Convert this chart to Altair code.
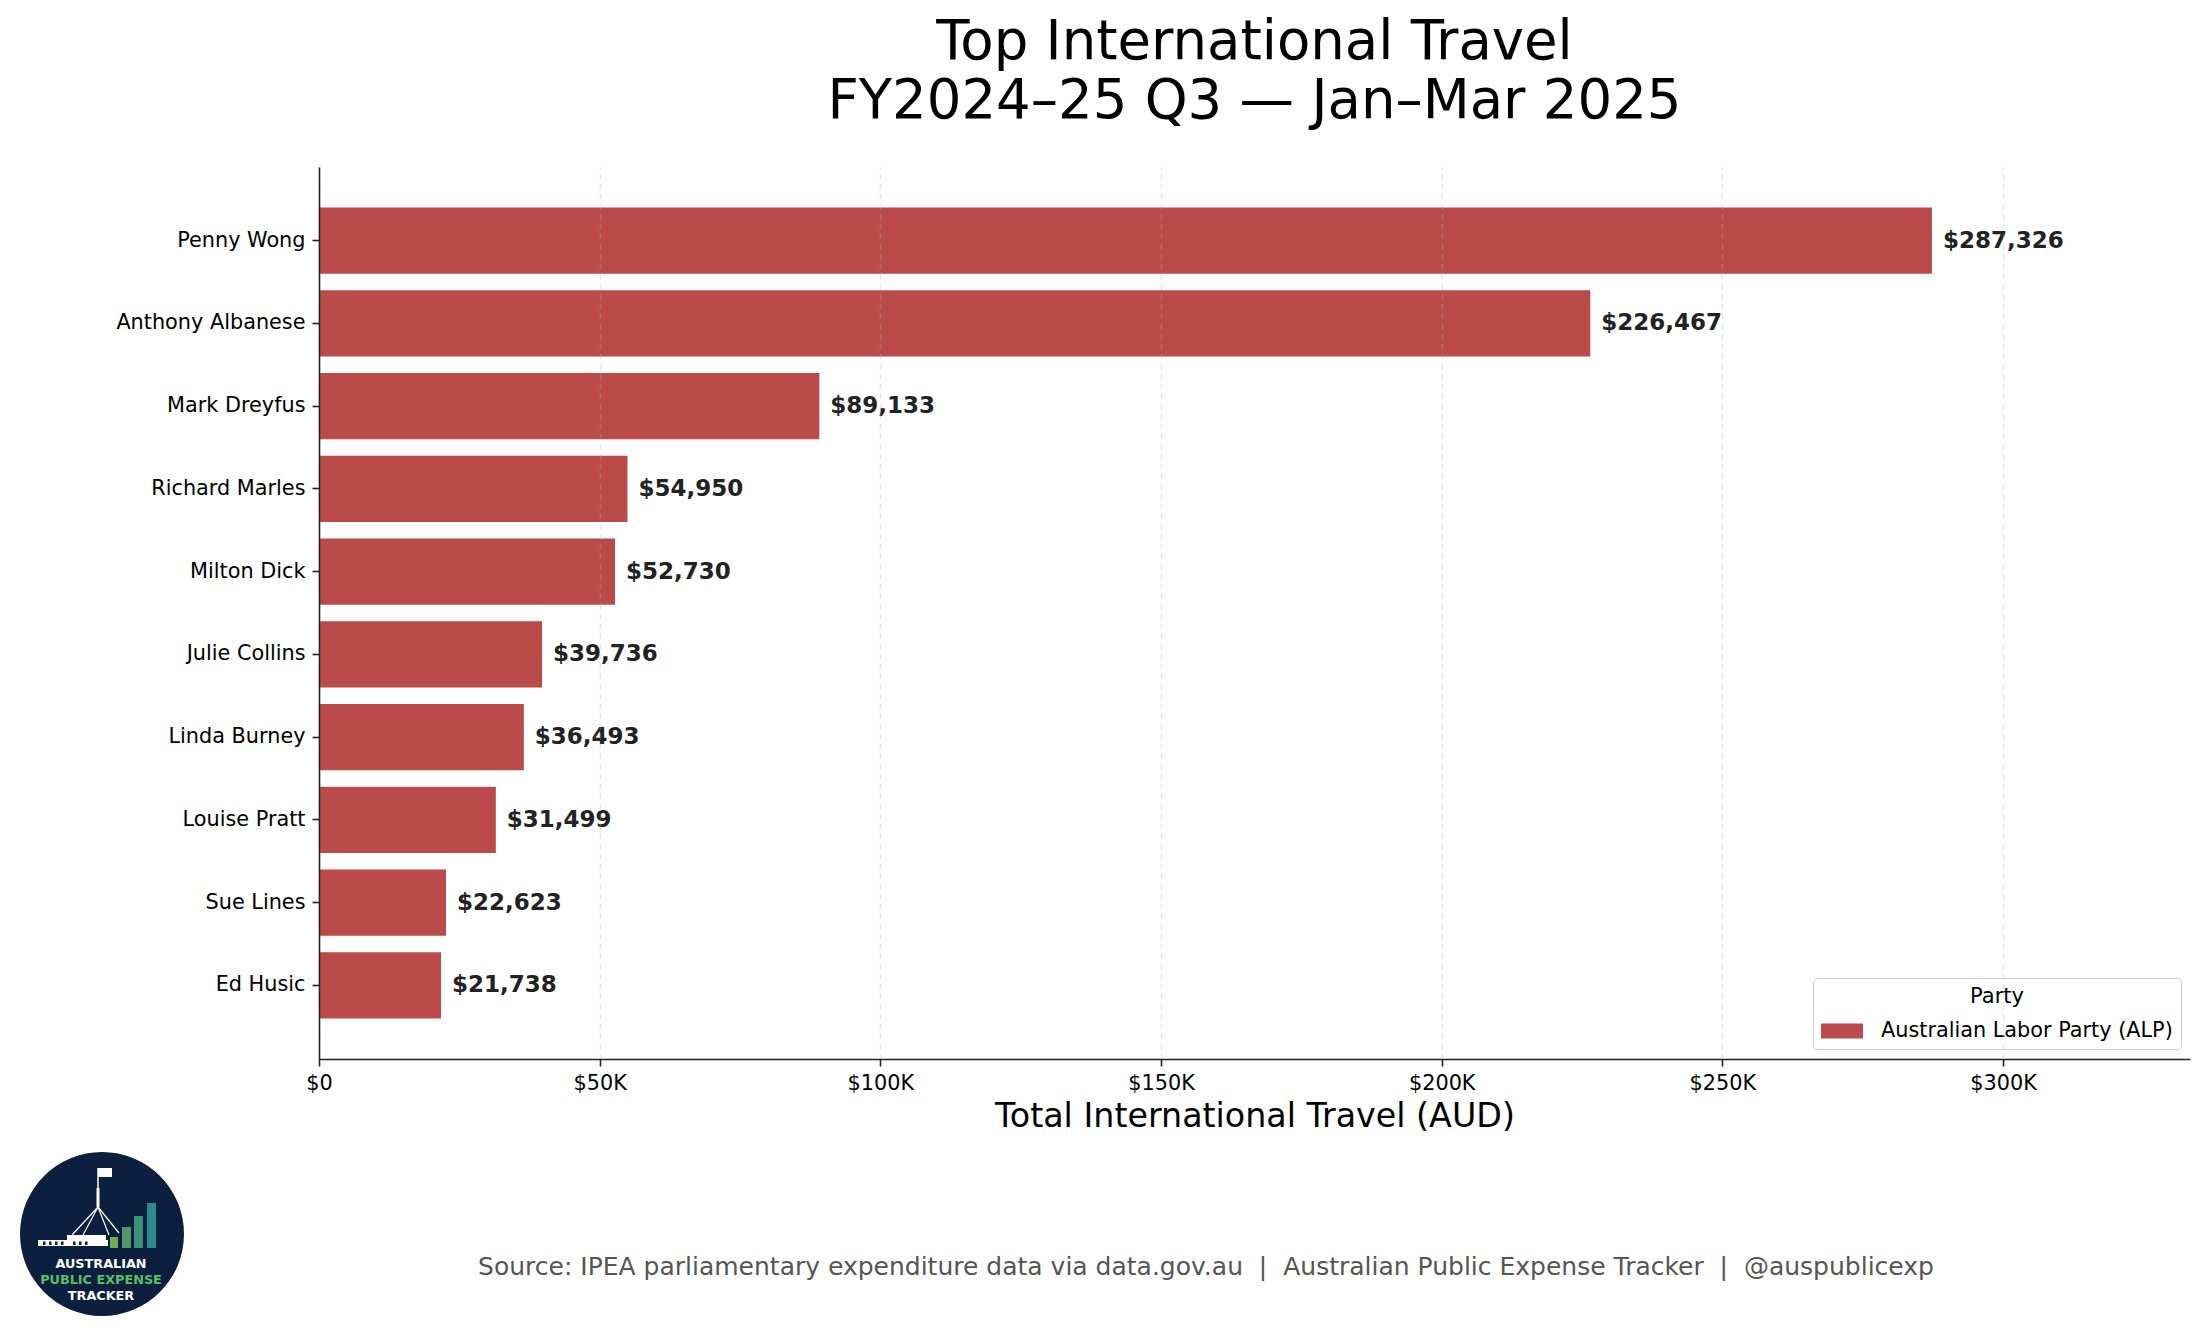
import altair as alt
import pandas as pd

names = ["Penny Wong", "Anthony Albanese", "Mark Dreyfus", "Richard Marles", "Milton Dick",
         "Julie Collins", "Linda Burney", "Louise Pratt", "Sue Lines", "Ed Husic"]
values = [287326, 226467, 89133, 54950, 52730, 39736, 36493, 31499, 22623, 21738]
party = ["Australian Labor Party (ALP)"] * len(names)
x_ticks = [0, 50000, 100000, 150000, 200000, 250000, 300000]
title_lines = ["Top International Travel", "FY2024–25 Q3 — Jan–Mar 2025"]
x_title = "Total International Travel (AUD)"
SEP = "\u00a0\u00a0|\u00a0\u00a0"
source_text = ("Source: IPEA parliamentary expenditure data via data.gov.au" + SEP +
               "Australian Public Expense Tracker" + SEP + "@auspublicexp")

df = pd.DataFrame({"name": names, "value": values, "party": party})

FONT = "DejaVu Sans"
BAR = "#BA4B4A"
NAVY = "#0c1f3e"

xs = alt.X("value:Q",
           scale=alt.Scale(domain=[0, 333300], nice=False, zero=True),
           axis=alt.Axis(values=x_ticks, title=x_title, labelFlush=False,
                         labelExpr="datum.value == 0 ? '$0' : '$' + (datum.value/1000) + 'K'",
                         grid=True, gridDash=[6, 4], gridColor="#b0b0b0", gridOpacity=0.3,
                         gridWidth=1.5, zindex=1))
ys = alt.Y("name:N", sort=names,
           scale=alt.Scale(paddingInner=0.2, paddingOuter=0.49),
           axis=alt.Axis(title=None, grid=False, zindex=1, labelLimit=0))

bars = alt.Chart(df).mark_bar().encode(
    x=xs, y=ys,
    color=alt.Color("party:N",
                    scale=alt.Scale(domain=["Australian Labor Party (ALP)"], range=[BAR]),
                    legend=alt.Legend(title="Party", orient="none", legendX=1494, legendY=811,
                                      fillColor="white", strokeColor="#cccccc", cornerRadius=4,
                                      padding=8, titleFontSize=21, titleFontWeight="normal",
                                      titleAnchor="middle", titleColor="#000000", titlePadding=3,
                                      labelFontSize=20.8, labelColor="#000000", labelOffset=18,
                                      labelLimit=0,
                                      symbolType="M-1,-0.357L1,-0.357L1,0.357L-1,0.357Z",
                                      symbolSize=1764, symbolStrokeWidth=0, symbolOpacity=1)),
)

labels = alt.Chart(df).transform_calculate(
    label="'$' + format(datum.value, ',')"
).mark_text(align="left", baseline="middle", dx=11, fontSize=23, fontWeight="bold",
            color="#222222", font=FONT).encode(
    x=alt.X("value:Q"), y=alt.Y("name:N", sort=names), text="label:N")

one = pd.DataFrame({"k": [0]})


def deco(mark, **enc):
    return getattr(alt.Chart(one), mark[0])(**mark[1]).encode(**enc)


layers = [bars, labels]

# source line
layers.append(deco(("mark_text", dict(align="center", baseline="alphabetic", fontSize=25,
                                      color="#555555", font=FONT)),
                   x=alt.value(887), y=alt.value(1108), text=alt.value(source_text)))

# logo
layers.append(deco(("mark_point", dict(shape="circle", filled=True, opacity=1, size=26896,
                                       color=NAVY)),
                   x=alt.value(-217), y=alt.value(1067)))
# building
layers.append(deco(("mark_rect", dict(color="white")),
                   x=alt.value(-281), x2=alt.value(-211), y=alt.value(1073), y2=alt.value(1079)))
layers.append(deco(("mark_rect", dict(color="white")),
                   x=alt.value(-252), x2=alt.value(-213), y=alt.value(1068), y2=alt.value(1079)))
for wx in [-276, -270, -264, -258, -246, -240, -234]:
    layers.append(deco(("mark_rect", dict(color=NAVY)),
                       x=alt.value(wx), x2=alt.value(wx + 2.5), y=alt.value(1074.5), y2=alt.value(1078)))
# flag pole and legs
layers.append(deco(("mark_rule", dict(color="white", strokeWidth=1.5)),
                   x=alt.value(-221), x2=alt.value(-221), y=alt.value(1001), y2=alt.value(1040)))
layers.append(deco(("mark_rule", dict(color="white", strokeWidth=3)),
                   x=alt.value(-221), x2=alt.value(-221), y=alt.value(1021), y2=alt.value(1040)))
for lx, ly in [(-247, 1068), (-236, 1068), (-210, 1068), (-200, 1066)]:
    layers.append(deco(("mark_rule", dict(color="white", strokeWidth=1.2)),
                       x=alt.value(-221), x2=alt.value(lx), y=alt.value(1040), y2=alt.value(ly)))
layers.append(deco(("mark_rect", dict(color="white")),
                   x=alt.value(-221), x2=alt.value(-207), y=alt.value(1001), y2=alt.value(1010)))
# logo bars
for (x0, x1, y0), c in zip([(-209, -201, 1070), (-197, -188, 1060), (-185, -176, 1049), (-172, -163, 1036)],
                           ["#6cb04e", "#4f9a68", "#3d8f78", "#2b8a8c"]):
    layers.append(deco(("mark_rect", dict(color=c)),
                       x=alt.value(x0), x2=alt.value(x1), y=alt.value(y0), y2=alt.value(1081)))
# logo text
for txt, yy, col in [("AUSTRALIAN", 1101, "white"), ("PUBLIC EXPENSE", 1117, "#5cbf63"),
                     ("TRACKER", 1133, "white")]:
    layers.append(deco(("mark_text", dict(align="center", baseline="alphabetic", fontSize=12.8,
                                          fontWeight="bold", color=col, font=FONT)),
                       x=alt.value(-218), y=alt.value(yy), text=alt.value(txt)))

chart = alt.layer(*layers).properties(
    width=1871, height=892,
    padding={"left": 311, "top": 159, "right": 7, "bottom": 262},
    autosize=alt.AutoSizeParams(type="none"),
    title=alt.TitleParams(text=title_lines, fontSize=54.5, fontWeight="normal", font=FONT,
                          anchor="middle", lineHeight=59, offset=38, color="#000000"),
).configure(font=FONT).configure_view(stroke=None).configure_axis(
    domainColor="#222222", domainWidth=1.6, tickColor="#222222", tickWidth=1.6, tickSize=7,
    labelFontSize=20.8, labelColor="#000000", labelFont=FONT, labelPadding=7,
    titleFont=FONT, titleFontSize=33.3, titleFontWeight="normal", titleColor="#000000",
    titlePadding=8,
)

chart.save("out.html", embed_options={"renderer": "svg", "actions": False})
